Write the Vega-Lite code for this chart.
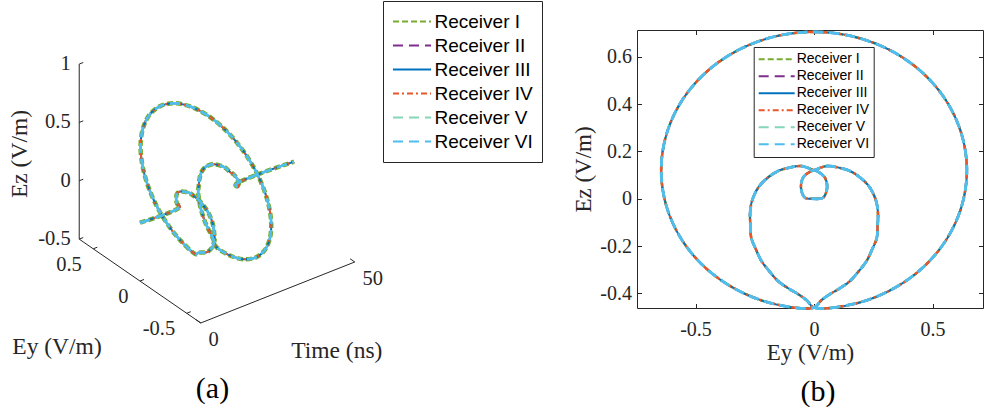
{
  "$schema": "https://vega.github.io/schema/vega-lite/v6.json",
  "background": "white",
  "padding": 0,
  "spacing": 92,
  "bounds": "flush",
  "config": {
    "view": {"stroke": null},
    "axis": {"grid": false, "domainColor": "#262626", "tickColor": "#262626", "labelColor": "#262626", "titleColor": "#262626", "labelFont": "Liberation Serif", "titleFont": "Liberation Serif", "labelFontSize": 20, "titleFontSize": 23, "titleFontWeight": "normal", "domainWidth": 1, "tickWidth": 1},
    "title": {"font": "Liberation Serif", "fontSize": 30, "fontWeight": "normal", "color": "#000000"}
  },
  "datasets": {
    "curve": [
      {"t": 0, "ey": 0, "ez": 0},
      {"t": 13, "ey": 0, "ez": 0},
      {"t": 13.2, "ey": 0.038, "ez": 0.004},
      {"t": 13.4, "ey": 0.055, "ez": 0.046},
      {"t": 13.6, "ey": 0.046, "ez": 0.089},
      {"t": 13.8, "ey": 0.017, "ez": 0.114},
      {"t": 14, "ey": 0, "ez": 0.12},
      {"t": 14.25, "ey": -0.054, "ez": 0.138},
      {"t": 14.49, "ey": -0.11, "ez": 0.13},
      {"t": 14.74, "ey": -0.152, "ez": 0.117},
      {"t": 14.99, "ey": -0.2, "ez": 0.085},
      {"t": 15.24, "ey": -0.236, "ez": 0.046},
      {"t": 15.48, "ey": -0.262, "ez": -0.01},
      {"t": 15.73, "ey": -0.27, "ez": -0.065},
      {"t": 15.98, "ey": -0.268, "ez": -0.12},
      {"t": 16.22, "ey": -0.265, "ez": -0.165},
      {"t": 16.47, "ey": -0.245, "ez": -0.215},
      {"t": 16.72, "ey": -0.222, "ez": -0.263},
      {"t": 16.96, "ey": -0.19, "ez": -0.305},
      {"t": 17.21, "ey": -0.152, "ez": -0.348},
      {"t": 17.46, "ey": -0.11, "ez": -0.378},
      {"t": 17.71, "ey": -0.068, "ez": -0.403},
      {"t": 17.95, "ey": -0.03, "ez": -0.43},
      {"t": 18.2, "ey": 0, "ez": -0.46},
      {"t": 18.47, "ey": 0.167, "ez": -0.445},
      {"t": 18.73, "ey": 0.322, "ez": -0.387},
      {"t": 19.0, "ey": 0.456, "ez": -0.294},
      {"t": 19.27, "ey": 0.559, "ez": -0.172},
      {"t": 19.53, "ey": 0.623, "ez": -0.031},
      {"t": 19.8, "ey": 0.645, "ez": 0.12},
      {"t": 20.07, "ey": 0.623, "ez": 0.271},
      {"t": 20.33, "ey": 0.559, "ez": 0.412},
      {"t": 20.6, "ey": 0.456, "ez": 0.534},
      {"t": 20.87, "ey": 0.322, "ez": 0.627},
      {"t": 21.13, "ey": 0.167, "ez": 0.685},
      {"t": 21.4, "ey": 0, "ez": 0.705},
      {"t": 21.67, "ey": -0.167, "ez": 0.685},
      {"t": 21.93, "ey": -0.322, "ez": 0.627},
      {"t": 22.2, "ey": -0.456, "ez": 0.534},
      {"t": 22.47, "ey": -0.559, "ez": 0.412},
      {"t": 22.73, "ey": -0.623, "ez": 0.271},
      {"t": 23.0, "ey": -0.645, "ez": 0.12},
      {"t": 23.27, "ey": -0.623, "ez": -0.031},
      {"t": 23.53, "ey": -0.559, "ez": -0.172},
      {"t": 23.8, "ey": -0.456, "ez": -0.294},
      {"t": 24.07, "ey": -0.322, "ez": -0.387},
      {"t": 24.33, "ey": -0.167, "ez": -0.445},
      {"t": 24.6, "ey": 0, "ez": -0.46},
      {"t": 24.89, "ey": 0.03, "ez": -0.43},
      {"t": 25.18, "ey": 0.068, "ez": -0.403},
      {"t": 25.47, "ey": 0.11, "ez": -0.378},
      {"t": 25.75, "ey": 0.152, "ez": -0.348},
      {"t": 26.04, "ey": 0.19, "ez": -0.305},
      {"t": 26.33, "ey": 0.222, "ez": -0.263},
      {"t": 26.62, "ey": 0.245, "ez": -0.215},
      {"t": 26.91, "ey": 0.265, "ez": -0.165},
      {"t": 27.19, "ey": 0.268, "ez": -0.12},
      {"t": 27.48, "ey": 0.27, "ez": -0.065},
      {"t": 27.77, "ey": 0.262, "ez": -0.01},
      {"t": 28.06, "ey": 0.236, "ez": 0.046},
      {"t": 28.35, "ey": 0.2, "ez": 0.085},
      {"t": 28.64, "ey": 0.152, "ez": 0.117},
      {"t": 28.92, "ey": 0.11, "ez": 0.13},
      {"t": 29.21, "ey": 0.054, "ez": 0.138},
      {"t": 29.5, "ey": 0, "ez": 0.12},
      {"t": 29.8, "ey": -0.017, "ez": 0.114},
      {"t": 30.1, "ey": -0.046, "ez": 0.089},
      {"t": 30.4, "ey": -0.055, "ez": 0.046},
      {"t": 30.7, "ey": -0.038, "ez": 0.004},
      {"t": 31, "ey": 0, "ez": 0},
      {"t": 50, "ey": 0, "ez": 0}
    ],
    "box": [
      {"t": 0, "ey": 0.65, "ez": -0.5, "t2": 0, "ey2": 0.65, "ez2": 1},
      {"t": 0, "ey": 0.65, "ez": -0.5, "t2": 0, "ey2": -0.65, "ez2": -0.5},
      {"t": 0, "ey": -0.65, "ez": -0.5, "t2": 50, "ey2": -0.65, "ez2": -0.5},
      {"t": 0, "ey": 0.65, "ez": -0.5, "t2": 1.3, "ey2": 0.65, "ez2": -0.5},
      {"t": 0, "ey": 0.65, "ez": 0, "t2": 1.3, "ey2": 0.65, "ez2": 0},
      {"t": 0, "ey": 0.65, "ez": 0.5, "t2": 1.3, "ey2": 0.65, "ez2": 0.5},
      {"t": 0, "ey": 0.65, "ez": 1, "t2": 1.3, "ey2": 0.65, "ez2": 1},
      {"t": 0, "ey": 0.5, "ez": -0.5, "t2": 1.3, "ey2": 0.5, "ez2": -0.5},
      {"t": 0, "ey": 0, "ez": -0.5, "t2": 1.3, "ey2": 0, "ez2": -0.5},
      {"t": 0, "ey": -0.5, "ez": -0.5, "t2": 1.3, "ey2": -0.5, "ez2": -0.5},
      {"t": 0, "ey": -0.65, "ez": -0.5, "t2": 0, "ey2": -0.6, "ez2": -0.5},
      {"t": 50, "ey": -0.65, "ez": -0.5, "t2": 50, "ey2": -0.6, "ez2": -0.5}
    ],
    "labels": [
      {"kind": "ez", "t": 0, "ey": 0.65, "ez": 1, "label": "1"},
      {"kind": "ez", "t": 0, "ey": 0.65, "ez": 0.5, "label": "0.5"},
      {"kind": "ez", "t": 0, "ey": 0.65, "ez": 0, "label": "0"},
      {"kind": "ez", "t": 0, "ey": 0.65, "ez": -0.5, "label": "-0.5"},
      {"kind": "ey", "t": 0, "ey": 0.5, "ez": -0.5, "label": "0.5"},
      {"kind": "ey", "t": 0, "ey": 0, "ez": -0.5, "label": "0"},
      {"kind": "ey", "t": 0, "ey": -0.5, "ez": -0.5, "label": "-0.5"},
      {"kind": "time", "t": 0, "ey": -0.65, "ez": -0.5, "label": "0"},
      {"kind": "time", "t": 50, "ey": -0.65, "ez": -0.5, "label": "50"},
      {"kind": "ztitle", "t": 0, "ey": 0.65, "ez": 0.25, "label": "Ez (V/m)"},
      {"kind": "ytitle", "t": 0, "ey": 0, "ez": -0.5, "label": "Ey (V/m)"},
      {"kind": "ttitle", "t": 25, "ey": -0.65, "ez": -0.5, "label": "Time (ns)"}
    ]
  },
  "resolve": {"scale": {"color": "independent", "strokeDash": "independent"}, "legend": {"color": "independent", "strokeDash": "independent"}},
  "hconcat": [
    {
      "width": 545,
      "height": 278,
      "title": {"text": "(a)", "orient": "bottom", "offset": 12, "dx": -60},
      "layer": [
        {
          "data": {"name": "box"},
          "transform": [
            {"calculate": "3.08*datum.t - 93.5*datum.ey", "as": "u"},
            {"calculate": "1.22*datum.t + 64.5*datum.ey + 116.7*datum.ez", "as": "v"},
            {"calculate": "3.08*datum.t2 - 93.5*datum.ey2", "as": "u2"},
            {"calculate": "1.22*datum.t2 + 64.5*datum.ey2 + 116.7*datum.ez2", "as": "v2"}
          ],
          "mark": {"type": "rule", "color": "#262626", "strokeWidth": 1},
          "encoding": {
            "x": {"field": "u", "type": "quantitative", "scale": {"domain": [-140, 405], "nice": false, "zero": false}, "axis": null},
            "y": {"field": "v", "type": "quantitative", "scale": {"domain": [-85.3, 192.7], "nice": false, "zero": false}, "axis": null},
            "x2": {"field": "u2"},
            "y2": {"field": "v2"}
          }
        },
        {
          "data": {"name": "curve"},
          "transform": [
            {"calculate": "3.08*datum.t - 93.5*datum.ey", "as": "u"},
            {"calculate": "1.22*datum.t + 64.5*datum.ey + 116.7*datum.ez", "as": "v"}
          ],
          "encoding": {
            "x": {"field": "u", "type": "quantitative", "scale": {"domain": [-140, 405], "nice": false, "zero": false}, "axis": null},
            "y": {"field": "v", "type": "quantitative", "scale": {"domain": [-85.3, 192.7], "nice": false, "zero": false}, "axis": null},
            "order": {"field": "t", "type": "quantitative"}
          },
          "layer": [
            {"mark": {"type": "line", "strokeWidth": 4.5, "interpolate": "catmull-rom"},
             "encoding": {
               "color": {"datum": "Receiver I", "type": "nominal", "scale": {"domain": ["Receiver I", "Receiver II", "Receiver III", "Receiver IV", "Receiver V", "Receiver VI"], "range": ["#77AC30", "#7E2F8E", "#0072BD", "#E8562A", "#86D6B8", "#4DBEEE"]}, "legend": {"orient": "none", "legendX": 383, "legendY": -29, "title": null, "clipHeight": 24, "symbolSize": 1444, "symbolStrokeWidth": 2.2, "labelFont": "Liberation Sans", "labelFontSize": 19, "labelColor": "#000000", "padding": 8.5, "rowPadding": 0, "labelOffset": 2, "strokeColor": "#262626", "fillColor": "white"}},
               "strokeDash": {"datum": "Receiver I", "type": "nominal", "scale": {"domain": ["Receiver I", "Receiver II", "Receiver III", "Receiver IV", "Receiver V", "Receiver VI"], "range": [[6, 3], [10, 6], [1, 0], [6, 3, 2, 3], [10, 6], [10, 6]]}, "legend": {"orient": "none", "legendX": 383, "legendY": -29, "title": null, "clipHeight": 24, "symbolSize": 1444, "symbolStrokeWidth": 2.2, "labelFont": "Liberation Sans", "labelFontSize": 19, "labelColor": "#000000", "padding": 8.5, "rowPadding": 0, "labelOffset": 2, "strokeColor": "#262626", "fillColor": "white"}}
             }},
            {"mark": {"type": "line", "strokeWidth": 2, "interpolate": "catmull-rom"},
             "encoding": {"color": {"datum": "Receiver II", "type": "nominal"}, "strokeDash": {"datum": "Receiver II", "type": "nominal"}}},
            {"mark": {"type": "line", "strokeWidth": 2, "interpolate": "catmull-rom"},
             "encoding": {"color": {"datum": "Receiver III", "type": "nominal"}, "strokeDash": {"datum": "Receiver III", "type": "nominal"}}},
            {"mark": {"type": "line", "strokeWidth": 2, "interpolate": "catmull-rom"},
             "encoding": {"color": {"datum": "Receiver IV", "type": "nominal"}, "strokeDash": {"datum": "Receiver IV", "type": "nominal"}}},
            {"mark": {"type": "line", "strokeWidth": 2.5, "interpolate": "catmull-rom"},
             "encoding": {"color": {"datum": "Receiver V", "type": "nominal"}, "strokeDash": {"datum": "Receiver V", "type": "nominal"}}},
            {"mark": {"type": "line", "strokeWidth": 2.5, "interpolate": "catmull-rom"},
             "encoding": {"color": {"datum": "Receiver VI", "type": "nominal"}, "strokeDash": {"datum": "Receiver VI", "type": "nominal"}}}
          ]
        },
        {
          "data": {"name": "labels"},
          "transform": [
            {"calculate": "3.08*datum.t - 93.5*datum.ey", "as": "u"},
            {"calculate": "1.22*datum.t + 64.5*datum.ey + 116.7*datum.ez", "as": "v"}
          ],
          "encoding": {
            "x": {"field": "u", "type": "quantitative", "scale": {"domain": [-140, 405], "nice": false, "zero": false}, "axis": null},
            "y": {"field": "v", "type": "quantitative", "scale": {"domain": [-85.3, 192.7], "nice": false, "zero": false}, "axis": null},
            "text": {"field": "label", "type": "nominal"}
          },
          "layer": [
            {"transform": [{"filter": "datum.kind == 'ez'"}], "mark": {"type": "text", "align": "right", "baseline": "middle", "dx": -8.5, "font": "Liberation Serif", "fontSize": 20.5, "color": "#262626"}},
            {"transform": [{"filter": "datum.kind == 'ey'"}], "mark": {"type": "text", "align": "right", "baseline": "middle", "dx": -11.5, "dy": 16, "font": "Liberation Serif", "fontSize": 20.5, "color": "#262626"}},
            {"transform": [{"filter": "datum.kind == 'time'"}], "mark": {"type": "text", "align": "left", "baseline": "middle", "dx": 7.7, "dy": 17.5, "font": "Liberation Serif", "fontSize": 20.5, "color": "#262626"}},
            {"transform": [{"filter": "datum.kind == 'ztitle'"}], "mark": {"type": "text", "align": "center", "baseline": "middle", "angle": 270, "dx": -2.4, "dy": -59.2, "font": "Liberation Serif", "fontSize": 23.5, "color": "#262626"}},
            {"transform": [{"filter": "datum.kind == 'ytitle'"}], "mark": {"type": "text", "align": "center", "baseline": "middle", "dx": -83, "dy": 66, "font": "Liberation Serif", "fontSize": 23.5, "color": "#262626"}},
            {"transform": [{"filter": "datum.kind == 'ttitle'"}], "mark": {"type": "text", "align": "center", "baseline": "middle", "dx": 59, "dy": 58.5, "font": "Liberation Serif", "fontSize": 23.5, "color": "#262626"}}
          ]
        }
      ]
    },
    {
      "width": 346,
      "height": 278,
      "title": {"text": "(b)", "orient": "bottom", "offset": 12, "dx": 8},
      "data": {"name": "curve"},
      "resolve": {"axis": {"x": "independent", "y": "independent"}},
      "encoding": {
        "order": {"field": "t", "type": "quantitative"}
      },
      "layer": [
        {"mark": {"type": "line", "strokeWidth": 2.5, "interpolate": "catmull-rom"},
         "encoding": {
           "x": {"field": "ey", "type": "quantitative", "scale": {"domain": [-0.747, 0.713], "nice": false, "zero": false},
                 "axis": {"orient": "bottom", "values": [-0.5, 0, 0.5], "title": "Ey (V/m)", "tickSize": -4.5, "labelPadding": 16, "titlePadding": 2, "labelFlush": false, "labelExpr": "datum.value < 0 ? '-' + format(-datum.value, '.1f') : (datum.value == 0 ? '0' : format(datum.value, '.1f'))"}},
           "y": {"field": "ez", "type": "quantitative", "scale": {"domain": [-0.462, 0.713], "nice": false, "zero": false},
                 "axis": {"orient": "left", "values": [-0.4, -0.2, 0, 0.2, 0.4, 0.6], "title": "Ez (V/m)", "tickSize": -4.5, "labelPadding": 10, "titlePadding": 4, "labelFlush": false, "labelExpr": "datum.value < 0 ? '-' + format(-datum.value, '.1f') : (datum.value == 0 ? '0' : format(datum.value, '.1f'))"}},
           "color": {"datum": "Receiver I", "type": "nominal", "scale": {"domain": ["Receiver I", "Receiver II", "Receiver III", "Receiver IV", "Receiver V", "Receiver VI"], "range": ["#77AC30", "#7E2F8E", "#0072BD", "#E8562A", "#86D6B8", "#4DBEEE"]}, "legend": {"orient": "none", "legendX": 116.7, "legendY": 17, "title": null, "clipHeight": 16.5, "symbolSize": 1296, "symbolStrokeWidth": 2, "labelFont": "Liberation Sans", "labelFontSize": 14, "labelColor": "#000000", "padding": 4, "rowPadding": 0, "labelOffset": 1, "strokeColor": "#262626", "fillColor": "white"}},
           "strokeDash": {"datum": "Receiver I", "type": "nominal", "scale": {"domain": ["Receiver I", "Receiver II", "Receiver III", "Receiver IV", "Receiver V", "Receiver VI"], "range": [[6, 3], [10, 6], [1, 0], [6, 3, 2, 3], [10, 6], [10, 6]]}, "legend": {"orient": "none", "legendX": 116.7, "legendY": 17, "title": null, "clipHeight": 16.5, "symbolSize": 1296, "symbolStrokeWidth": 2, "labelFont": "Liberation Sans", "labelFontSize": 14, "labelColor": "#000000", "padding": 4, "rowPadding": 0, "labelOffset": 1, "strokeColor": "#262626", "fillColor": "white"}}
         }},
        {"mark": {"type": "line", "opacity": 0},
         "encoding": {
           "x": {"field": "ey", "type": "quantitative", "scale": {"domain": [-0.747, 0.713], "nice": false, "zero": false},
                 "axis": {"orient": "top", "values": [-0.5, 0, 0.5], "labels": false, "title": null, "tickSize": -4.5}},
           "y": {"field": "ez", "type": "quantitative", "scale": {"domain": [-0.462, 0.713], "nice": false, "zero": false},
                 "axis": {"orient": "right", "values": [-0.4, -0.2, 0, 0.2, 0.4, 0.6], "labels": false, "title": null, "tickSize": -4.5}}
         }},
        {"mark": {"type": "line", "strokeWidth": 2.5, "interpolate": "catmull-rom"},
         "encoding": {"x": {"field": "ey", "type": "quantitative", "axis": null}, "y": {"field": "ez", "type": "quantitative", "axis": null},
           "color": {"datum": "Receiver II", "type": "nominal"}, "strokeDash": {"datum": "Receiver II", "type": "nominal"}}},
        {"mark": {"type": "line", "strokeWidth": 2, "interpolate": "catmull-rom"},
         "encoding": {"x": {"field": "ey", "type": "quantitative", "axis": null}, "y": {"field": "ez", "type": "quantitative", "axis": null},
           "color": {"datum": "Receiver III", "type": "nominal"}, "strokeDash": {"datum": "Receiver III", "type": "nominal"}}},
        {"mark": {"type": "line", "strokeWidth": 2.5, "interpolate": "catmull-rom"},
         "encoding": {"x": {"field": "ey", "type": "quantitative", "axis": null}, "y": {"field": "ez", "type": "quantitative", "axis": null},
           "color": {"datum": "Receiver IV", "type": "nominal"}, "strokeDash": {"datum": "Receiver IV", "type": "nominal"}}},
        {"mark": {"type": "line", "strokeWidth": 2.5, "interpolate": "catmull-rom"},
         "encoding": {"x": {"field": "ey", "type": "quantitative", "axis": null}, "y": {"field": "ez", "type": "quantitative", "axis": null},
           "color": {"datum": "Receiver V", "type": "nominal"}, "strokeDash": {"datum": "Receiver V", "type": "nominal"}}},
        {"mark": {"type": "line", "strokeWidth": 2.8, "interpolate": "catmull-rom"},
         "encoding": {"x": {"field": "ey", "type": "quantitative", "axis": null}, "y": {"field": "ez", "type": "quantitative", "axis": null},
           "color": {"datum": "Receiver VI", "type": "nominal"}, "strokeDash": {"datum": "Receiver VI", "type": "nominal"}}}
      ]
    }
  ]
}
